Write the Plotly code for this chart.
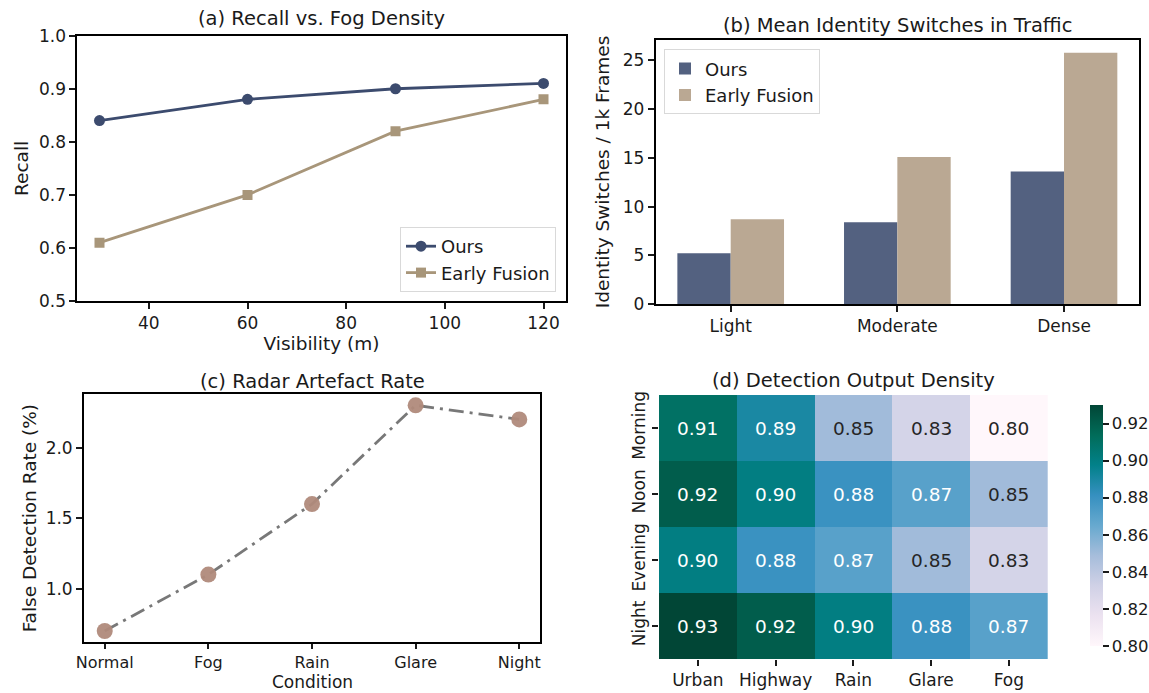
import plotly.graph_objects as go

# ---------------- data ----------------
visibility = [30, 60, 90, 120]
recall_ours = [0.84, 0.88, 0.90, 0.91]
recall_early = [0.61, 0.70, 0.82, 0.88]

traffic = ["Light", "Moderate", "Dense"]
idsw_ours = [5.2, 8.4, 13.6]
idsw_early = [8.7, 15.1, 25.8]

conditions = ["Normal", "Fog", "Rain", "Glare", "Night"]
false_rate = [0.7, 1.1, 1.6, 2.3, 2.2]

scenes = ["Urban", "Highway", "Rain", "Glare", "Fog"]
times = ["Morning", "Noon", "Evening", "Night"]
density = [
    [0.91, 0.89, 0.85, 0.83, 0.80],
    [0.92, 0.90, 0.88, 0.87, 0.85],
    [0.90, 0.88, 0.87, 0.85, 0.83],
    [0.93, 0.92, 0.90, 0.88, 0.87],
]
cbar_ticks = [0.80, 0.82, 0.84, 0.86, 0.88, 0.90, 0.92]

# ---------------- styling ----------------
W, H = 1149, 693
FONT = "DejaVu Sans"
TXT = "#1a1a1a"
C_OURS_LINE = "#3C4B6E"
C_EARLY_LINE = "#A8967A"
C_OURS_BAR = "#536180"
C_EARLY_BAR = "#BAA893"
C_GRAY = "#787878"
C_DOT = "#B08A7B"
TICK_SIZE = 17
LABEL_SIZE = 18.5
TITLE_SIZE = 19.5


def fx(px):
    return px / W


def fy(py):
    return 1 - py / H


fig = go.Figure()

# (a) Recall vs visibility
fig.add_trace(go.Scatter(x=visibility, y=recall_ours, mode="lines+markers", name="Ours",
                         line=dict(color=C_OURS_LINE, width=2.8),
                         marker=dict(symbol="circle", size=11, color=C_OURS_LINE),
                         xaxis="x", yaxis="y", legend="legend"))
fig.add_trace(go.Scatter(x=visibility, y=recall_early, mode="lines+markers", name="Early Fusion",
                         line=dict(color=C_EARLY_LINE, width=2.8),
                         marker=dict(symbol="square", size=10, color=C_EARLY_LINE),
                         xaxis="x", yaxis="y", legend="legend"))

# (b) bars
bw = 0.32
fig.add_trace(go.Bar(x=traffic, y=idsw_ours, name="Ours", marker=dict(color=C_OURS_BAR, line=dict(width=0)),
                     width=bw, offset=-bw, xaxis="x2", yaxis="y2", legend="legend2"))
fig.add_trace(go.Bar(x=traffic, y=idsw_early, name="Early Fusion", marker=dict(color=C_EARLY_BAR, line=dict(width=0)),
                     width=bw, offset=0, xaxis="x2", yaxis="y2", legend="legend2"))

# (c) radar artefact
fig.add_trace(go.Scatter(x=conditions, y=false_rate, mode="lines+markers", showlegend=False,
                         line=dict(color=C_GRAY, width=2.8, dash="15px,6px,3px,6px"),
                         marker=dict(size=16, color=C_DOT, opacity=0.95, line=dict(width=0)),
                         xaxis="x3", yaxis="y3"))

# (d) heatmap
fig.add_trace(go.Heatmap(z=density, x=scenes, y=times, colorscale="PuBuGn", zmin=0.80, zmax=0.93,
                         xaxis="x4", yaxis="y4", xgap=0, ygap=0,
                         colorbar=dict(x=fx(1080), xanchor="left", thickness=13,
                                       y=fy(656), yanchor="bottom", len=(656 - 395) / H, lenmode="fraction",
                                       outlinewidth=0, ticks="outside", ticklen=6, tickwidth=1.5,
                                       tickcolor=TXT, tickvals=cbar_ticks, tickformat=".2f",
                                       tickfont=dict(family=FONT, size=16.5, color=TXT))))

annotations = []
for i, t in enumerate(times):
    for j, s in enumerate(scenes):
        v = density[i][j]
        annotations.append(dict(x=s, y=t, xref="x4", yref="y4", text=f"{v:.2f}", showarrow=False,
                                font=dict(family=FONT, size=18.5, color="white" if v >= 0.86 else "#262626")))

# titles
titles = [
    ("(a) Recall vs. Fog Density", (77 + 566) / 2, 18),
    ("(b) Mean Identity Switches in Traffic", (656 + 1139) / 2, 26),
    ("(c) Radar Artefact Rate", (84 + 540) / 2, 381),
    ("(d) Detection Output Density", (659 + 1048) / 2, 380),
]
for txt, cx, cy in titles:
    annotations.append(dict(x=fx(cx), y=fy(cy), xref="paper", yref="paper", text=txt, showarrow=False,
                            xanchor="center", yanchor="middle",
                            font=dict(family=FONT, size=TITLE_SIZE, color=TXT)))

# x-axis label of panel (c), placed just under its tick labels
annotations.append(dict(x=fx((84 + 540) / 2), y=fy(693), xref="paper", yref="paper", text="Condition",
                        showarrow=False, xanchor="center", yanchor="bottom", borderpad=0,
                        font=dict(family=FONT, size=17, color=TXT)))

box = dict(showline=True, linecolor="black", linewidth=1.8, mirror=True, ticks="outside", ticklen=6,
           tickwidth=1.5, tickcolor=TXT, showgrid=False, zeroline=False, automargin=False,
           tickfont=dict(family=FONT, size=TICK_SIZE, color=TXT))
box_c_x = dict(box, ticklen=5, tickfont=dict(family=FONT, size=16, color=TXT))
ttl = dict(family=FONT, size=LABEL_SIZE, color=TXT)
hm_axis = dict(ticks="outside", ticklen=6, tickwidth=1.5, tickcolor=TXT, showline=False, showgrid=False,
               zeroline=False, automargin=False, tickfont=dict(family=FONT, size=TICK_SIZE, color=TXT))

fig.update_layout(
    width=W, height=H, margin=dict(l=0, r=0, t=0, b=0, autoexpand=False),
    paper_bgcolor="white", plot_bgcolor="white",
    font=dict(family=FONT, color=TXT),
    barmode="overlay",
    annotations=annotations,
    xaxis=dict(domain=[fx(77.3), fx(565.7)], range=[25.5, 124.5], tickvals=[40, 60, 80, 100, 120],
               anchor="y", title=dict(text="Visibility (m)", font=ttl, standoff=5), **box),
    yaxis=dict(domain=[fy(301), fy(35.7)], range=[0.5, 1.0], dtick=0.1, tickformat=".1f",
               anchor="x", title=dict(text="Recall", font=ttl, standoff=5), **box),
    xaxis2=dict(domain=[fx(655.7), fx(1139)], range=[-0.45, 2.45], anchor="y2", **box),
    yaxis2=dict(domain=[fy(304), fy(40)], range=[0, 27.1], tickvals=[0, 5, 10, 15, 20, 25], anchor="x2",
                title=dict(text="Identity Switches / 1k Frames", font=ttl, standoff=8), **box),
    xaxis3=dict(domain=[fx(84), fx(540)], range=[-0.2, 4.2], anchor="y3", **box_c_x),
    yaxis3=dict(domain=[fy(642.3), fy(394)], range=[0.62, 2.38], tickvals=[1.0, 1.5, 2.0], tickformat=".1f",
                anchor="x3", title=dict(text="False Detection Rate (%)", font=ttl, standoff=4), **box),
    xaxis4=dict(domain=[fx(659), fx(1047.7)], anchor="y4", **hm_axis),
    yaxis4=dict(domain=[fy(659), fy(395)], anchor="x4", autorange="reversed", tickangle=-90, **hm_axis),
    legend=dict(x=fx(556), y=fy(292), xanchor="right", yanchor="bottom", bgcolor="rgba(255,255,255,0.8)",
                bordercolor="#d9d9d9", borderwidth=1, font=dict(family=FONT, size=18, color=TXT),
                tracegroupgap=2),
    legend2=dict(x=fx(664), y=fy(49.3), xanchor="left", yanchor="top", bgcolor="rgba(255,255,255,0.8)",
                 bordercolor="#d9d9d9", borderwidth=1, font=dict(family=FONT, size=18, color=TXT),
                 tracegroupgap=2),
)

fig.write_html("out.html", config={"displayModeBar": False},
               post_script="document.body.style.margin='0';document.body.style.overflow='hidden';")
